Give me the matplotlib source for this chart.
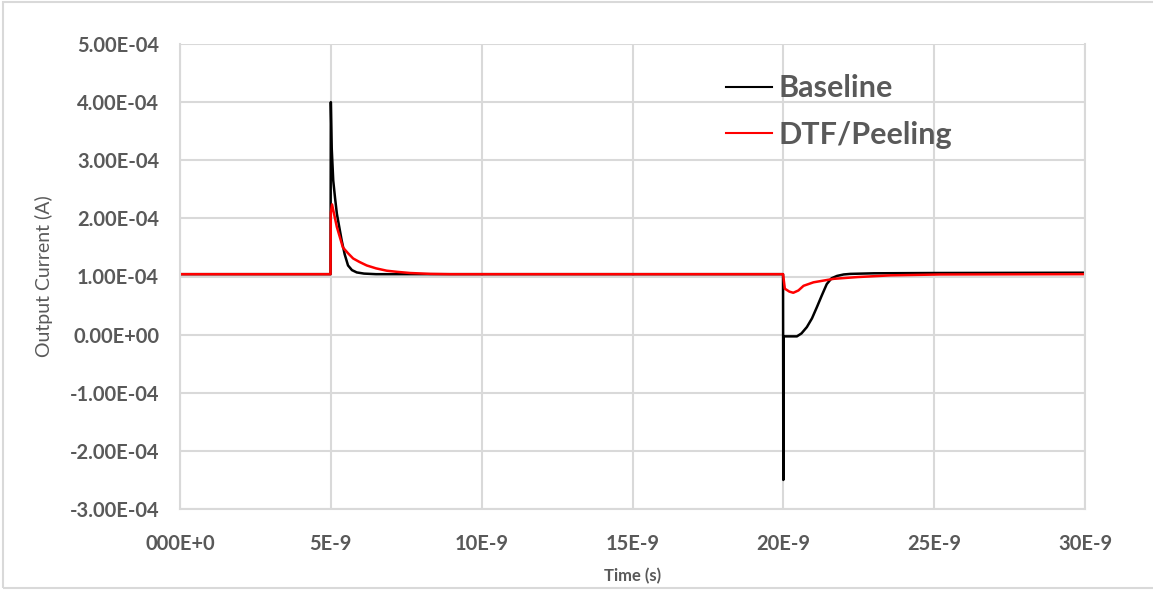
import matplotlib
matplotlib.use("Agg")
import matplotlib.pyplot as plt
from matplotlib.patches import Rectangle

# Transient output current, time in ns, current in units of 1E-4 A
base_t = [0, 4.99, 5.0, 5.03, 5.08, 5.14, 5.20, 5.28, 5.36, 5.46, 5.57, 5.70, 5.86, 6.1, 6.5,
          10, 15, 19.99, 20.0, 20.01, 20.45, 20.6, 20.78, 20.95, 21.11, 21.28, 21.44, 21.6,
          21.78, 22.0, 22.22, 23, 25, 30]
base_i = [1.04, 1.04, 4.00, 3.20, 2.65, 2.35, 2.08, 1.85, 1.62, 1.38, 1.19, 1.11, 1.07, 1.05, 1.04,
          1.04, 1.04, 1.04, -2.50, -0.03, -0.03, 0.02, 0.13, 0.28, 0.47, 0.68, 0.87, 0.97,
          1.01, 1.035, 1.045, 1.055, 1.06, 1.065]

dtf_t = [0, 4.99, 5.0, 5.04, 5.2, 5.4, 5.57, 5.74, 5.95, 6.19, 6.5, 6.85, 7.2, 7.63, 8.3, 8.95,
         15, 19.99, 20.0, 20.05, 20.2, 20.33, 20.5, 20.67, 21.0, 21.67, 22.45, 23.56, 25.2, 30]
dtf_i = [1.04, 1.04, 2.10, 2.24, 1.85, 1.50, 1.40, 1.31, 1.25, 1.19, 1.14, 1.10, 1.08, 1.06, 1.045,
         1.04, 1.04, 1.04, 1.00, 0.79, 0.74, 0.72, 0.76, 0.84, 0.90, 0.96, 0.99, 1.02, 1.035, 1.04]

x_ticks = [0, 5, 10, 15, 20, 25, 30]
x_labels = ["000E+0", "5E-9", "10E-9", "15E-9", "20E-9", "25E-9", "30E-9"]
y_ticks = [5, 4, 3, 2, 1, 0, -1, -2, -3]
y_labels = ["5.00E-04", "4.00E-04", "3.00E-04", "2.00E-04", "1.00E-04", "0.00E+00",
            "-1.00E-04", "-2.00E-04", "-3.00E-04"]

grey = "#595959"
grid = "#d9d9d9"
plt.rcParams['font.family'] = ['Lato', 'DejaVu Sans']
plt.rcParams['font.weight'] = 'bold'

fig = plt.figure(figsize=(11.53, 5.90), dpi=100)
ax = fig.add_axes([180 / 1153, 1 - 509 / 590, 905 / 1153, 465 / 590])

ax.plot([t * 1e-9 for t in base_t], [v * 1e-4 for v in base_i], color="black", lw=1.8,
        label="Baseline")
ax.plot([t * 1e-9 for t in dtf_t], [v * 1e-4 for v in dtf_i], color="red", lw=1.8,
        label="DTF/Peeling")

ax.set_xlim(0, 30e-9)
ax.set_ylim(-3e-4, 5e-4)
ax.set_xticks([t * 1e-9 for t in x_ticks])
ax.set_xticklabels(x_labels, fontweight="bold")
ax.set_yticks([v * 1e-4 for v in y_ticks])
ax.set_yticklabels(y_labels, fontweight="bold")
ax.tick_params(length=0, labelsize=14.5, labelcolor=grey)
ax.tick_params(axis="x", pad=18)
ax.tick_params(axis="y", pad=15)

ax.grid(True, color=grid, lw=1.5, zorder=0)
ax.set_axisbelow(True)
for s in ax.spines.values():
    s.set_visible(False)
for side in ("left", "bottom", "right"):
    ax.spines[side].set_visible(True)
    ax.spines[side].set_color(grid)
    ax.spines[side].set_linewidth(1.5)

ax.set_xlabel("Time (s)", fontsize=12, fontweight="bold", color=grey, labelpad=10)
ax.set_ylabel("Output Current (A)", fontsize=14, fontweight="normal", color=grey, labelpad=12)

leg = ax.legend(loc="upper left", bbox_to_anchor=(714 / 1153, 1 - 62 / 590),
                bbox_transform=fig.transFigure, frameon=False, handlelength=1.5,
                handletextpad=0.2, labelspacing=0.6, borderaxespad=0,
                prop={"size": 22, "weight": "bold"})
for txt in leg.get_texts():
    txt.set_color(grey)
for ln in leg.get_lines():
    ln.set_linewidth(1.5)

# light chart-area frame
fig.patches.append(Rectangle((3 / 1153, 2 / 590), 1.2, 586 / 590, transform=fig.transFigure,
                             fill=False, edgecolor=grid, lw=1.5))

fig.savefig("out.png", dpi=100)
